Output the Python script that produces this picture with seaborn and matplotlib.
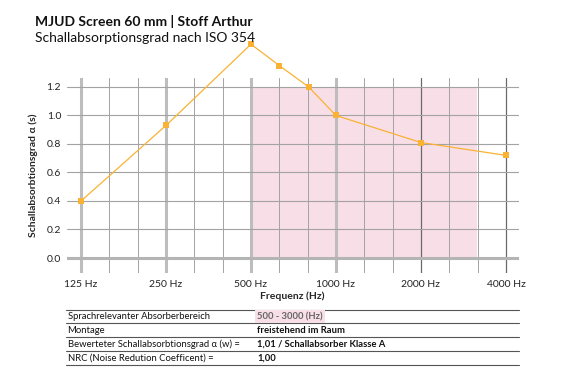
import numpy as np
import seaborn as sns
import matplotlib.pyplot as plt
from matplotlib.lines import Line2D

# data
freqs = [125, 250, 500, 630, 800, 1000, 2000, 4000]
alpha = [0.40, 0.93, 1.50, 1.35, 1.20, 1.00, 0.81, 0.72]
octave_ticks = [125, 250, 500, 1000, 2000, 4000]
octave_labels = ['125 Hz', '250 Hz', '500 Hz', '1000 Hz', '2000 Hz', '4000 Hz']
speech_band = [500, 3150]
speech_top = 1.2
yticks = [0.0, 0.2, 0.4, 0.6, 0.8, 1.0, 1.2]

table_left = ['Sprachrelevanter Absorberbereich', 'Montage',
              'Bewerteter Schallabsorbtionsgrad α (w) =',
              'NRC (Noise Redution Coefficent) =']
table_right = ['500 - 3000 (Hz)', 'freistehend im Raum',
               '1,01 / Schallabsorber Klasse A', '1,00']

sns.set_theme(style='white')
plt.rcParams['font.family'] = ['Lato', 'DejaVu Sans']

fig = plt.figure(figsize=(5.66, 3.78), dpi=100)
ax = fig.add_axes([0.1178, 0.2786, 0.9164 - 0.1178, 0.7937 - 0.2786])
ax.set_xscale('log', base=2)
ax.set_xlim(111.2, 4437)
ax.set_ylim(-0.103, 1.263)

# pink speech band
ax.fill_between(speech_band, 0, speech_top, color='#F8DEE6', linewidth=0, zorder=0.5)

# grid: third octaves thin, octaves thick
for k in range(16):
    f = 125 * 2 ** (k / 3)
    if k % 3 == 0 and f < 1500:
        ax.axvline(f, color='#BDBDBD', lw=2.2, zorder=1)
    elif k % 3 == 0:
        ax.axvline(f, color='#6A6A6A', lw=0.9, zorder=1)
    else:
        ax.axvline(f, color='#A3A3A3', lw=0.7, zorder=1)
for y in yticks[1:]:
    ax.axhline(y, color='#A3A3A3', lw=0.8, zorder=1)
ax.axhline(0, color='#B4B4B4', lw=2.2, zorder=1)

sns.lineplot(x=freqs, y=alpha, ax=ax, color='#F9B234', lw=0.9,
             marker='s', markersize=4.5, markeredgewidth=0, clip_on=False, zorder=3)

ax.set_xticks(octave_ticks, octave_labels)
ax.minorticks_off()
ax.set_yticks(yticks, [f'{v:.1f}' for v in yticks])
ax.tick_params(length=0, labelsize=7.5, colors='#222222')
ax.tick_params(axis='x', pad=5)
ax.tick_params(axis='y', pad=4)
for s in ax.spines.values():
    s.set_visible(False)
ax.set_xlabel('Frequenz (Hz)', fontsize=7.5, fontweight='bold', labelpad=2)
ax.set_ylabel('Schallabsorbtionsgrad α (s)', fontsize=7.5, fontweight='bold', labelpad=6)

fig.text(35 / 566, 1 - 22 / 378, 'MJUD Screen 60 mm | Stoff Arthur',
         fontsize=10, fontweight='bold', va='center', color='#111111')
fig.text(35 / 566, 1 - 38 / 378, 'Schallabsorptionsgrad nach ISO 354',
         fontsize=10, va='center', color='#111111')

# table below the chart
W, H = 566, 378
for yl in [310, 323.3, 337.3, 350.7, 365.3]:
    fig.add_artist(Line2D([66 / W, 519 / W], [1 - yl / H, 1 - yl / H],
                          color='#555555', lw=0.8))
rows_y = [316.7, 330.3, 344, 358]
for i, (l, r) in enumerate(zip(table_left, table_right)):
    yy = 1 - rows_y[i] / H
    fig.text(67.5 / W, yy, l, fontsize=6.8, va='center', color='#111111')
    if i == 0:
        fig.text(257 / W, yy, r, fontsize=6.8, va='center', fontweight='bold',
                 color='#666666',
                 bbox=dict(facecolor='#F8DEE6', edgecolor='none', pad=1.5))
    else:
        fig.text(257 / W, yy, r, fontsize=6.8, va='center', fontweight='bold',
                 color='#111111')

fig.savefig('out.png', dpi=100)
